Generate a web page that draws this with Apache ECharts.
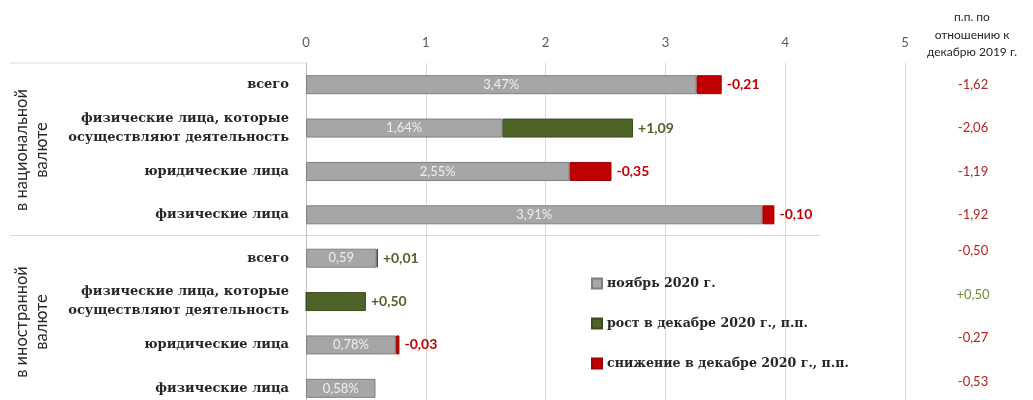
<!DOCTYPE html>
<html><head><meta charset="utf-8">
<script src="https://cdn.jsdelivr.net/npm/echarts@6/dist/echarts.min.js"></script>
<style>html,body{margin:0;padding:0;background:#fff}#c{width:1033px;height:400px}</style>
</head><body><div id="c"></div>
<script>
const categories = ['всего','физические лица, которые\nосуществляют деятельность','юридические лица','физические лица',
                    'всего','физические лица, которые\nосуществляют деятельность','юридические лица','физические лица'];
const november = [3.47, 1.64, 2.55, 3.91, 0.59, 0.00, 0.78, 0.58];
const novemberLabels = ['3,47%','1,64%','2,55%','3,91%','0,59','','0,78%','0,58%'];
const changeDec = [-0.21, 1.09, -0.35, -0.10, 0.01, 0.50, -0.03, null];
const vsDec2019 = [-1.62, -2.06, -1.19, -1.92, -0.50, 0.50, -0.27, -0.53];
const xTicks = [0,1,2,3,4,5];

const fmt = v => (v > 0 ? '+' : '') + v.toFixed(2).replace('.', ',');
const base = november.map((v,i) => +(v + Math.min(changeDec[i] || 0, 0)).toFixed(2));
const growth = changeDec.map(c => (c != null && c > 0) ? c : '-');
const decline = changeDec.map(c => (c != null && c < 0) ? -c : '-');

const SANS = 'Lato, "Open Sans", sans-serif';
const SERIF = '"DejaVu Serif", serif';

const chart = echarts.init(document.getElementById('c'));
chart.setOption({
  animation: false,
  grid: { left: 306, right: 128, top: 63, bottom: -10, outerBoundsMode: 'none', containLabel: false },
  legend: {
    orient: 'vertical', left: 586, top: 272, itemGap: 27, itemWidth: 10, itemHeight: 10, icon: 'rect',
    textStyle: { fontFamily: SERIF, fontWeight: 'bold', fontSize: 12.6, color: '#262626' },
    data: ['ноябрь 2020 г.', 'рост в декабре 2020 г., п.п.', 'снижение в декабре 2020 г., п.п.']
  },
  xAxis: {
    type: 'value', position: 'top', min: xTicks[0], max: xTicks[xTicks.length-1], interval: 1,
    axisLine: { show: false }, axisTick: { show: false },
    axisLabel: { color: '#595959', fontFamily: SANS, fontSize: 13, margin: 14 },
    splitLine: { lineStyle: { color: '#d9d9d9', width: 1 } }
  },
  yAxis: [{
    type: 'category', inverse: true, data: categories,
    axisLine: { lineStyle: { color: '#bfbfbf' } }, axisTick: { show: false },
    axisLabel: { color: '#262626', fontFamily: SERIF, fontWeight: 'bold', fontSize: 13, margin: 17, lineHeight: 19, align: 'right' }
  }, {
    type: 'category', inverse: true, position: 'right', data: vsDec2019.map(fmt),
    axisLine: { show: false }, axisTick: { show: false },
    axisLabel: {
      align: 'center', margin: 68,
      formatter: (v, i) => {
        const pos = v.charAt(0) === '+';
        return '{' + (i >= 4 ? 'f' : 'n') + (pos ? 'p' : 'm') + '|' + v + '}';
      },
      rich: {
        nm: { color: '#b52222', fontFamily: SANS, fontSize: 13 },
        np: { color: '#6f8f3a', fontFamily: SANS, fontSize: 13 },
        fm: { color: '#b52222', fontFamily: SANS, fontSize: 13, padding: [0,0,14,0] },
        fp: { color: '#6f8f3a', fontFamily: SANS, fontSize: 13, padding: [0,0,14,0] }
      }
    }
  }],
  series: [{
    name: 'ноябрь 2020 г.', type: 'bar', stack: 's', barWidth: 19, data: base,
    itemStyle: { color: '#a6a6a6', borderColor: '#7f7f7f', borderWidth: 1 },
    label: { show: true, position: 'inside', color: '#efefef', fontFamily: SANS, fontSize: 13,
      formatter: p => novemberLabels[p.dataIndex] }
  }, {
    name: 'рост в декабре 2020 г., п.п.', type: 'bar', stack: 's', barWidth: 19, data: growth,
    itemStyle: { color: '#4f6228', borderColor: '#3d4c1f', borderWidth: 1 },
    label: { show: true, position: 'right', distance: 5, color: '#4f6228', fontFamily: SANS, fontWeight: 'bold', fontSize: 14,
      formatter: p => fmt(p.value) }
  }, {
    name: 'снижение в декабре 2020 г., п.п.', type: 'bar', stack: 's', barWidth: 19, data: decline,
    itemStyle: { color: '#c00000', borderColor: '#a00000', borderWidth: 1 },
    label: { show: true, position: 'right', distance: 5, color: '#c00000', fontFamily: SANS, fontWeight: 'bold', fontSize: 14,
      formatter: p => fmt(-p.value) }
  }],
  graphic: [
    { type: 'line', shape: { x1: 10, y1: 63, x2: 306, y2: 63 }, style: { stroke: '#d9d9d9', lineWidth: 1 } },
    { type: 'line', shape: { x1: 10, y1: 235.5, x2: 820, y2: 235.5 }, style: { stroke: '#d9d9d9', lineWidth: 1 } },
    { type: 'text', x: 32, y: 150, rotation: Math.PI/2,
      style: { text: 'в национальной\nвалюте', fill: '#262626', font: '16.5px ' + SANS, align: 'center', verticalAlign: 'middle', lineHeight: 20 } },
    { type: 'text', x: 32, y: 322, rotation: Math.PI/2,
      style: { text: 'в иностранной\nвалюте', fill: '#262626', font: '16.5px ' + SANS, align: 'center', verticalAlign: 'middle', lineHeight: 20 } },
    { type: 'text', x: 972, y: 35,
      style: { text: 'п.п. по\nотношению к\nдекабрю 2019 г.', fill: '#262626', font: '12px ' + SANS, align: 'center', verticalAlign: 'middle', lineHeight: 17.5 } }
  ]
});
</script></body></html>
